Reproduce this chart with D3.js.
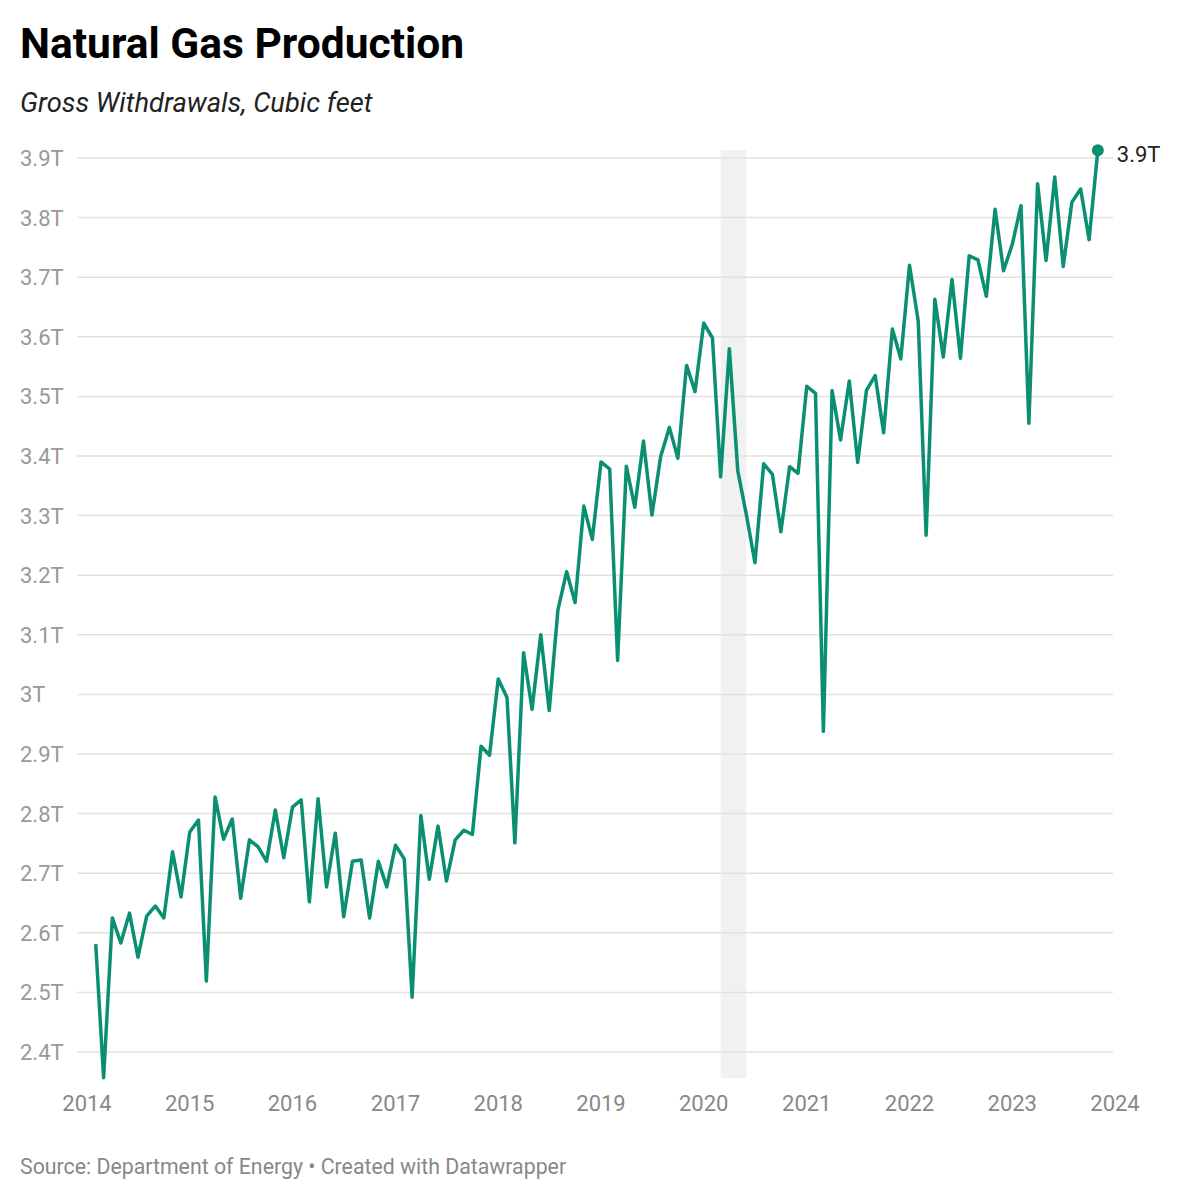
<!DOCTYPE html>
<html>
<head>
<meta charset="utf-8">
<script src="https://cdn.jsdelivr.net/npm/d3@7"></script>
<style>
body{margin:0;background:#fff;font-family:Roboto,sans-serif;}
</style>
</head>
<body>
<div id="drawArea"></div>
<script>
// monthly gross withdrawals, trillion cubic feet, Feb 2014 - Nov 2023
var startMonth = "2014-02";
var values = [2.581,2.357,2.625,2.583,2.633,2.559,2.628,2.645,2.625,2.736,2.660,2.769,
	2.789,2.519,2.828,2.757,2.791,2.658,2.756,2.744,2.720,2.806,2.726,2.811,
	2.823,2.652,2.825,2.677,2.767,2.627,2.720,2.722,2.625,2.720,2.677,2.747,
	2.724,2.492,2.797,2.690,2.779,2.687,2.756,2.772,2.765,2.913,2.898,3.026,
	2.995,2.751,3.070,2.975,3.100,2.973,3.142,3.206,3.154,3.316,3.260,3.390,
	3.378,3.057,3.383,3.314,3.425,3.301,3.399,3.448,3.396,3.552,3.508,3.623,
	3.598,3.365,3.580,3.375,3.300,3.221,3.387,3.369,3.273,3.382,3.371,3.517,
	3.505,2.938,3.510,3.427,3.526,3.389,3.510,3.535,3.439,3.613,3.563,3.720,
	3.626,3.267,3.663,3.566,3.696,3.564,3.736,3.729,3.668,3.814,3.711,3.755,
	3.820,3.455,3.857,3.728,3.868,3.718,3.826,3.848,3.763,3.913];
var yTicks = [2.4,2.5,2.6,2.7,2.8,2.9,3.0,3.1,3.2,3.3,3.4,3.5,3.6,3.7,3.8,3.9];
var xTicks = ["2014","2015","2016","2017","2018","2019","2020","2021","2022","2023","2024"];
var shade = ["2020-03-01","2020-05-31"];

var parse = d3.timeParse("%Y-%m");
var t0 = parse(startMonth);
var data = values.map(function(v,i){ return {date: d3.timeMonth.offset(t0,i), value: v}; });

var svg = d3.select("#drawArea").append("svg")
	.attr("width",1200).attr("height",1200);

var x = d3.scaleTime()
	.domain([new Date(2014,0,1), new Date(2024,0,1)])
	.range([87,1115]);
var y = d3.scaleLinear().domain([2.4,3.9]).range([1052,158]);

svg.append("text").attr("x",20).attr("y",58)
	.style("font-size","42.5px").style("font-weight","bold").attr("fill","#000")
	.text("Natural Gas Production");
svg.append("text").attr("x",20).attr("y",112)
	.style("font-size","27.3px").style("font-style","italic").attr("fill","#222")
	.text("Gross Withdrawals, Cubic feet");

svg.append("rect")
	.attr("x",x(new Date(shade[0]))).attr("y",150)
	.attr("width",x(new Date(shade[1]))-x(new Date(shade[0])))
	.attr("height",1078-150).attr("fill","#f1f1f1");

var grid = svg.append("g");
grid.selectAll("line").data(yTicks).enter().append("line")
	.attr("x1",77).attr("x2",1113)
	.attr("y1",function(d){return y(d);}).attr("y2",function(d){return y(d);})
	.attr("stroke","#e2e2e2").attr("stroke-width",1.5);
grid.selectAll("text").data(yTicks).enter().append("text")
	.attr("x",20).attr("y",function(d){return y(d)+8;})
	.style("font-size","22px").attr("fill","#999")
	.text(function(d){ return (d===3 ? "3" : d.toFixed(1)) + "T"; });

svg.append("g").selectAll("text").data(xTicks).enter().append("text")
	.attr("x",function(d){return x(new Date(+d,0,1));}).attr("y",1111)
	.attr("text-anchor","middle").style("font-size","22px").attr("fill","#888")
	.text(function(d){return d;});

var line = d3.line().x(function(d){return x(d.date);}).y(function(d){return y(d.value);});
svg.append("path").datum(data).attr("d",line)
	.attr("fill","none").attr("stroke","#0b8f72").attr("stroke-width",3.5)
	.attr("stroke-linejoin","round");

var last = data[data.length-1];
svg.append("circle").attr("cx",x(last.date)).attr("cy",y(last.value)).attr("r",6)
	.attr("fill","#0b8f72");
svg.append("text").attr("x",x(last.date)+19).attr("y",y(last.value)+12)
	.style("font-size","22px").attr("fill","#222")
	.text(d3.format(".1f")(last.value)+"T");

svg.append("text").attr("x",20).attr("y",1174)
	.style("font-size","21.3px").attr("fill","#888")
	.text("Source: Department of Energy • Created with Datawrapper");
</script>
</body>
</html>
